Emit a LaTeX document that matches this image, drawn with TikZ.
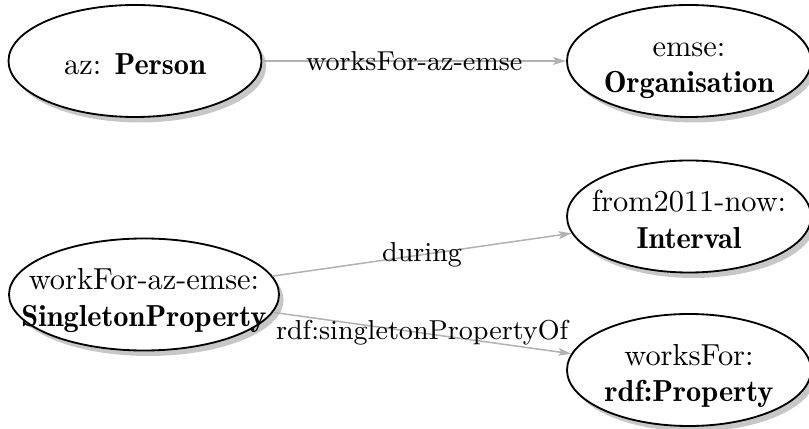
\documentclass[tikz,border=0pt]{standalone}
\usepackage{amsmath}
\usetikzlibrary{shapes.geometric,shadows,arrows.meta}
\newlength\pxunit
\setlength\pxunit{0.329pt}
\newcommand\resclass[1]{{\fontseries{b}\selectfont #1}}

\tikzset{
  resource/.style={ellipse, draw, semithick, fill=white, inner sep=0pt,
    minimum height=112\pxunit,
    drop shadow={shadow xshift=1.5pt, shadow yshift=-1.8pt, fill=black!22, opacity=1}},
  restext/.style={align=center, text height=7pt, text depth=0pt},
  oneline/.style={restext, yshift=-0.8pt},
  twoline/.style={restext, yshift=-7pt},
  relation/.style={draw=black!30, line width=0.5pt,
    -{Stealth[length=4.3pt, width=2.6pt, inset=1pt]}},
  rellabel/.style={midway, font=\small},
}

\begin{document}
\begin{tikzpicture}
    \useasboundingbox (0,0) rectangle (809\pxunit,429\pxunit); % Fixes the margins...

    \node[resource, minimum width=253\pxunit, label={[oneline]center:{az: \resclass{Person}}}] (person) at (135\pxunit,368\pxunit) {};
    \node[resource, minimum width=244\pxunit, label={[twoline]center:{emse:\\ \resclass{Organisation}}}] (org) at (689\pxunit,368\pxunit) {};
    \node[resource, minimum width=244\pxunit, label={[twoline]center:{from2011-now:\\ \resclass{Interval}}}] (interval) at (689\pxunit,212.5\pxunit) {};
    \node[resource, minimum width=270\pxunit, label={[twoline]center:{workFor-az-emse:\\ \resclass{SingletonProperty}}}] (singleton) at (144\pxunit,134.5\pxunit) {};
    \node[resource, minimum width=244\pxunit, label={[twoline]center:{worksFor:\\ \resclass{rdf:Property}}}] (rdfprop) at (689\pxunit,59\pxunit) {};

    \draw[relation] (person) -- node[rellabel] {worksFor-az-emse} (org);
    \draw[relation] (singleton) -- node[rellabel] {during} (interval);
    \draw[relation] (singleton) -- node[rellabel] {rdf:singletonPropertyOf} (rdfprop);
  \end{tikzpicture}
\end{document}
